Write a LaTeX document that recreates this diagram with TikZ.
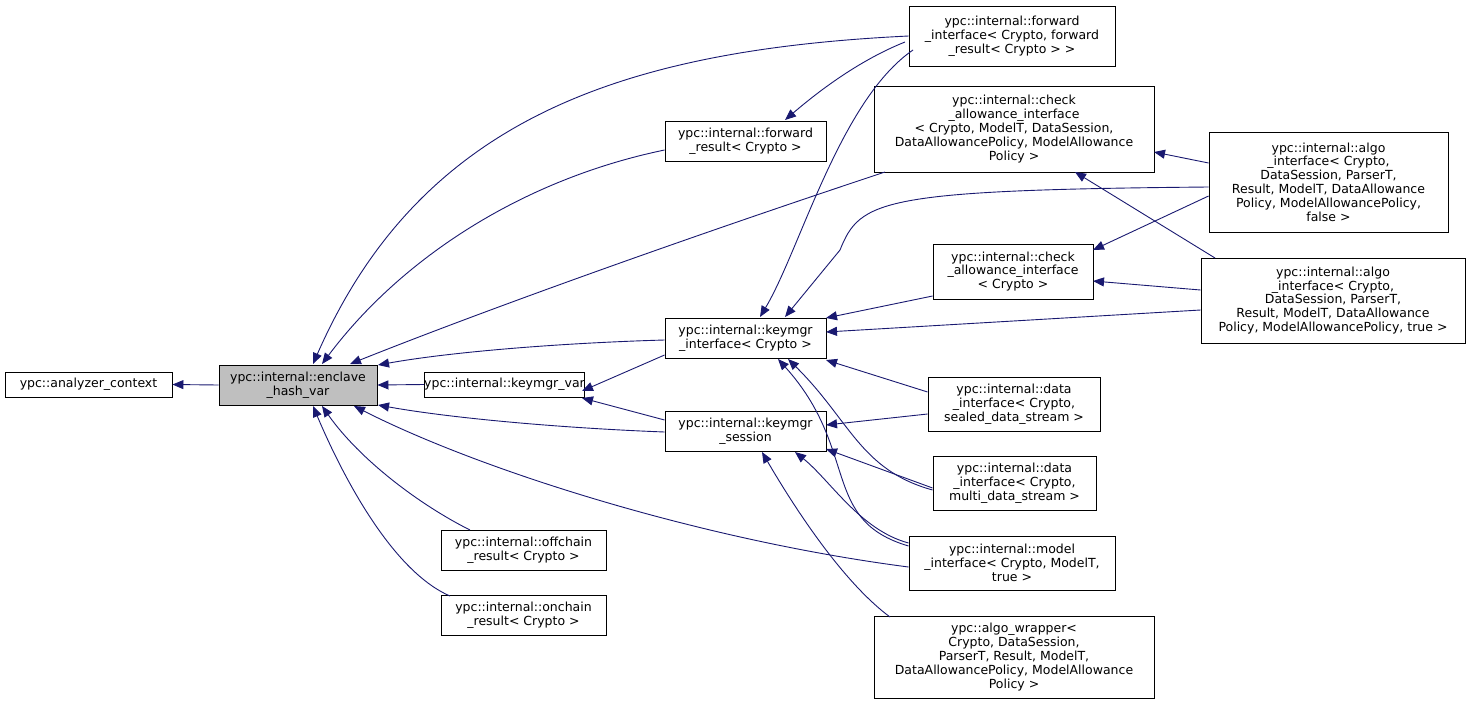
\documentclass[tikz,border=0pt]{standalone}
\usepackage{fontspec}
\setmainfont{DejaVu Sans}
\usetikzlibrary{arrows.meta}
\begin{document}
\begin{tikzpicture}[x=1pt,y=-1pt,
  box/.style={draw=black,line width=0.9pt,inner sep=0pt,align=center,font=\fontsize{12.5}{13.8}\selectfont},
  e/.style={draw={rgb,255:red,25;green,25;blue,112},line width=0.9pt,-{Triangle[length=11pt,width=9pt]}}]
\useasboundingbox (0,0) rectangle (1471,707);
\newcommand{\bx}[6]{\node[box,minimum width={#4-#2},minimum height={#5-#3}] (#1) at ({(#2+#4)/2},{(#3+#5)/2}) {#6};}
\bx{ac}{5}{372}{172}{397}{ypc::analyzer\_context}
\node[box,fill={rgb,255:red,191;green,191;blue,191},minimum width=158,minimum height=40] (eh) at (298,385) {ypc::internal::enclave\\\_hash\_var};
\bx{fi}{909}{6}{1115}{66}{ypc::internal::forward\\\_interface< Crypto, forward\\\_result< Crypto > >}
\bx{fr}{665}{121}{826}{161}{ypc::internal::forward\\\_result< Crypto >}
\bx{cb}{874}{86}{1154}{172}{ypc::internal::check\\\_allowance\_interface\\< Crypto, ModelT, DataSession,\\DataAllowancePolicy, ModelAllowance\\Policy >}
\bx{af}{1209}{132}{1448}{232}{ypc::internal::algo\\\_interface< Crypto,\\ DataSession, ParserT,\\ Result, ModelT, DataAllowance\\Policy, ModelAllowancePolicy,\\ false >}
\bx{at}{1201}{258}{1465}{343}{ypc::internal::algo\\\_interface< Crypto,\\ DataSession, ParserT,\\ Result, ModelT, DataAllowance\\Policy, ModelAllowancePolicy, true >}
\bx{cc}{933}{244}{1093}{299}{ypc::internal::check\\\_allowance\_interface\\< Crypto >}
\bx{ki}{665}{318}{826}{358}{ypc::internal::keymgr\\\_interface< Crypto >}
\bx{kv}{428}{372}{581}{397}{ypc::internal::keymgr\_var}
\bx{ks}{665}{411}{826}{451}{ypc::internal::keymgr\\\_session}
\bx{ds}{928}{377}{1100}{431}{ypc::internal::data\\\_interface< Crypto,\\ sealed\_data\_stream >}
\bx{dm}{933}{456}{1096}{510}{ypc::internal::data\\\_interface< Crypto,\\ multi\_data\_stream >}
\bx{mi}{909}{536}{1115}{590}{ypc::internal::model\\\_interface< Crypto, ModelT,\\ true >}
\bx{aw}{874}{616}{1154}{698}{ypc::algo\_wrapper<\\ Crypto, DataSession,\\ ParserT, Result, ModelT,\\ DataAllowancePolicy, ModelAllowance\\Policy >}
\bx{oc}{441}{530}{606}{570}{ypc::internal::offchain\\\_result< Crypto >}
\bx{on}{441}{595}{606}{635}{ypc::internal::onchain\\\_result< Crypto >}
% edges
\draw[e] (eh.west) -- (ac.east);
\draw[e] (kv.west) -- (eh.east);
\draw[e] (fi.west|-0,36) .. controls (620,50) and (420,120) .. (313,364);
\draw[e] (fr.west|-0,150) .. controls (520,180) and (400,260) .. (322,364);
\draw[e] (885,172) .. controls (650,250) and (460,320) .. (350,364);
\draw[e] (ki.west|-0,340) .. controls (560,343) and (450,352) .. (378,365);
\draw[e] (ks.west|-0,432) .. controls (560,428) and (450,418) .. (378,405);
\draw[e] (mi.west|-0,567) .. controls (700,540) and (480,470) .. (354,406);
\draw[e] (470,530) .. controls (420,505) and (360,460) .. (322,406);
\draw[e] (450,596) .. controls (390,570) and (340,470) .. (313,406);
\draw[e] (905,42) .. controls (860,60) and (820,90) .. (785,120);
\draw[e] (ki.west|-0,355) -- (582,391);
\draw[e] (ks.west|-0,420) -- (582,398);
\draw[e] (913,50) .. controls (840,100) and (800,250) .. (760,317);
\draw[e] (af.west|-0,187) .. controls (880,190) and (860,200) .. (840,250) -- (785,317);
\draw[e] (cc.west|-0,296) -- (826,318);
\draw[e] (at.west|-0,310) -- (826,332);
\draw[e] (ds.west|-0,392) -- (826,360);
\draw[e] (dm.west|-0,490) .. controls (860,470) and (850,420) .. (788,359);
\draw[e] (mi.west|-0,546) .. controls (820,520) and (860,450) .. (778,359);
\draw[e] (ds.west|-0,414) -- (826,425);
\draw[e] (dm.west|-0,488) -- (826,449);
\draw[e] (mi.west|-0,543) .. controls (860,530) and (830,480) .. (795,452);
\draw[e] (890,617) .. controls (840,580) and (790,500) .. (762,452);
\draw[e] (af.west|-0,163) -- (1154,152);
\draw[e] (1215,258) -- (1075,172);
\draw[e] (af.west|-0,196) -- (1093,250);
\draw[e] (at.west|-0,290) -- (1093,281);
\end{tikzpicture}
\end{document}
